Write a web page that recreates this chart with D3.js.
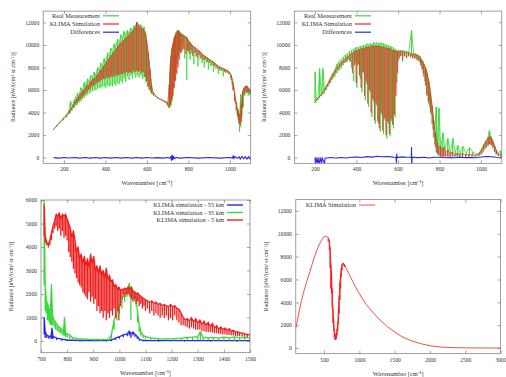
<!DOCTYPE html>
<html>
<head>
<meta charset="utf-8">
<script src="https://cdn.jsdelivr.net/npm/d3@7"></script>
<style>
  body { margin: 0; background: #fff; }
  svg text { font-family: "Liberation Serif", "Times New Roman", serif; fill: #333; }
</style>
</head>
<body>
<svg id="chart" width="506" height="377"></svg>
<script>
// ---- data ----
// spiky spectra: [wavenumber, top, dip]
const p1Real = [[150,2500,2450],[165,2850,2750],[180,3150,3050],[195,3450,3300],[210,3750,3550],[222,4100,3800],[232,5000,4000],[240,4600,4200],[250,5100,4400],[258,5400,4600],[266,5700,4700],[274,5600,4900],[282,6200,5000],[290,6000,5200],[298,6700,5300],[306,6400,5500],[314,7000,5600],[322,6700,5700],[330,7300,5800],[338,7100,5900],[346,7600,6000],[354,7300,6000],[362,8000,6100],[370,7700,6200],[378,8400,6200],[386,8100,6300],[394,8800,6300],[402,8500,6200],[410,9300,6400],[418,9000,6300],[426,9700,6400],[434,9400,6300],[442,10100,6500],[450,9800,6400],[458,10500,6600],[466,10200,6500],[474,10900,6800],[482,10500,6600],[490,11200,7000],[498,10800,6700],[506,11300,7200],[514,11000,6900],[522,11500,7300],[530,11200,7000],[538,11700,7400],[546,11500,7100],[554,12000,7300],[562,11600,7100],[570,11800,7300],[578,11500,7000],[586,11600,7100],[594,11000,6700],[602,9900,6300],[610,8600,6000],[618,7000,5800],[626,5900,5600],[640,5500,5400],[660,5250,5150],[680,5050,4950],[696,4900,4700],[704,4800,4400],[710,7500,4400],[716,9000,4600],[722,9800,5200],[728,10400,6100],[734,10800,6900],[740,11100,7600],[746,11300,8300],[752,11300,9000],[758,11100,9500],[766,11000,9300],[774,10900,9800],[782,10800,8800],[792,10700,6900],[800,10400,9400],[808,10200,8700],[816,10000,9200],[826,9800,8300],[836,9700,9000],[846,9500,8100],[856,9400,8800],[866,9200,8400],[876,9000,8000],[886,8900,8400],[896,8800,7800],[908,8600,8100],[920,8500,7600],[932,8300,7900],[944,8100,7400],[956,8000,7700],[968,7900,7200],[980,7800,7500],[992,7700,7400],[1002,7500,7100],[1010,7000,6500],[1018,6300,5900],[1026,5300,4800],[1034,4400,3900],[1040,4200,3300],[1046,3600,2300],[1052,5600,2700],[1058,4600,3600],[1064,6000,4500],[1072,6300,5500],[1080,6400,5700],[1088,6200,5500],[1096,6000,5600],[1100,5800,5500]];

const p1Sim = [[150,2500,2450],[169,2900,2850],[184,3200,3150],[199,3500,3400],[214,3800,3650],[228,4200,3900],[236,4400,4200],[246,4700,4450],[254,5000,4700],[262,5200,4850],[270,5400,5000],[278,5600,5150],[286,5800,5300],[294,6000,5500],[302,6100,5600],[310,6400,5800],[318,6400,6000],[326,6700,6100],[334,6800,6300],[342,7000,6400],[350,7000,6500],[358,7300,6600],[366,7400,6700],[374,7700,6800],[382,7800,6900],[390,8100,7000],[398,8200,7000],[406,8500,7100],[414,8700,7100],[422,8900,7100],[430,9100,7200],[438,9300,7200],[446,9500,7300],[454,9700,7300],[462,9900,7300],[470,10100,7400],[478,10200,7400],[486,10400,7500],[494,10500,7400],[502,10700,7600],[510,10800,7500],[518,11000,7600],[526,11100,7500],[534,11300,7700],[542,11500,7600],[550,12000,7700],[558,11800,7600],[566,11600,7700],[574,11500,7500],[582,11400,7600],[590,11100,7200],[598,10400,6800],[606,9300,6300],[614,7900,6000],[622,6400,5700],[632,5700,5500],[650,5350,5250],[670,5150,5050],[688,5000,4850],[700,4850,4600],[708,6500,4500],[714,8500,4700],[720,9600,5000],[726,10100,5500],[732,10600,6200],[738,10900,6800],[744,11100,7400],[750,11200,8000],[756,11200,8700],[762,11000,9300],[770,10900,9500],[778,10800,9600],[788,10700,9200],[796,10500,9500],[804,10300,9200],[812,10100,9500],[821,9900,9000],[831,9800,9300],[841,9600,8900],[851,9500,9100],[861,9300,8800],[871,9100,8700],[881,9000,8700],[891,8850,8500],[902,8700,8400],[914,8550,8200],[926,8400,8100],[938,8200,7900],[950,8050,7800],[962,7950,7700],[974,7850,7600],[986,7750,7550],[996,7600,7450],[1006,7300,6900],[1014,6700,6000],[1022,5800,5000],[1030,4900,4200],[1037,4300,3600],[1043,3900,3000],[1049,3600,2900],[1055,4800,3200],[1061,5800,4400],[1068,6200,5600],[1076,6300,5800],[1084,6300,5800],[1092,6100,5700],[1100,6000,5800]];

// differences: [wavenumber, value]
const p1Diff = [[150,0],[175,-40],[200,20],[225,-30],[250,10],[275,-40],[300,10],[325,-40],[350,20],[375,-40],[400,10],[425,-40],[450,20],[475,-40],[500,10],[525,-40],[550,20],[575,-40],[600,10],[625,-30],[650,0],[675,-40],[700,10],[712,-60],[716,120],[719,-250],[722,220],[725,-180],[728,120],[732,-90],[740,20],[760,-40],[800,10],[850,-40],[900,10],[950,-40],[1000,10],[1012,-40],[1016,180],[1019,-100],[1024,100],[1035,-60],[1045,80],[1050,-140],[1058,130],[1066,-100],[1074,90],[1082,-130],[1090,100],[1096,-120],[1100,40]];

const p2Real = [[200,7600,4900],[206,5100,5000],[214,5300,5150],[222,7900,5350],[230,5600,5450],[238,7900,5600],[246,5900,5750],[256,6400,6050],[266,6700,6350],[276,7100,6650],[286,7500,7000],[296,7800,7200],[306,8300,7500],[316,8500,7700],[326,8700,7900],[336,8900,8200],[346,9100,8400],[356,9200,8500],[366,9400,8600],[376,9500,8000],[386,9600,6800],[394,9700,8400],[402,9800,6200],[410,9700,8300],[418,9900,7000],[426,9800,5800],[434,10000,7500],[442,9900,5100],[450,10100,6500],[458,10000,4500],[466,10100,5800],[474,10000,3600],[482,10200,5000],[490,10100,3000],[498,10200,4600],[506,10100,3000],[514,10200,2300],[522,10100,3800],[530,10100,2100],[538,10000,3300],[546,10000,1700],[554,9900,3000],[562,9900,1900],[570,9800,3200],[578,9700,2600],[586,9600,3600],[594,9500,6600],[602,9500,8600],[612,9500,9000],[622,9500,8500],[632,9450,9000],[642,9400,8800],[652,9400,9000],[665,11300,9000],[675,9300,8900],[685,9200,8800],[695,9100,8600],[705,9000,8500],[713,8700,8000],[721,8500,7500],[729,8100,6800],[737,7800,5600],[745,7000,5000],[752,6300,4500],[760,5200,3800],[768,3800,2500],[776,2300,1200],[784,4500,500],[790,1200,300],[797,4400,200],[806,800,100],[816,2200,100],[826,700,100],[840,1700,100],[852,400,100],[864,1700,100],[876,500,100],[888,1100,100],[900,400,100],[912,1000,100],[928,400,100],[944,900,100],[960,500,100],[976,300,100],[992,400,150],[1002,700,300],[1012,1100,500],[1022,1400,800],[1032,1700,1000],[1040,2400,1200],[1048,1800,1100],[1056,1500,900],[1064,1100,600],[1072,700,300],[1082,400,150],[1094,600,100],[1100,300,100]];

const p2Sim = [[200,4900,4850],[210,5200,5100],[220,5400,5300],[230,5600,5500],[240,5800,5700],[250,6200,6000],[260,6500,6300],[270,6900,6600],[280,7200,6900],[290,7500,7200],[300,7800,7500],[310,8100,7800],[320,8300,8000],[330,8500,8200],[340,8700,8400],[350,8900,8500],[360,9000,8700],[370,9200,8500],[380,9300,7500],[390,9400,8200],[398,9500,6600],[406,9500,8200],[414,9600,7300],[422,9600,6200],[430,9700,7600],[438,9700,5500],[446,9800,6800],[454,9800,4800],[462,9800,6000],[470,9900,4000],[478,9900,5200],[486,9900,3300],[494,9900,4800],[502,9900,3200],[510,9900,2600],[518,9800,4000],[526,9800,2400],[534,9800,3500],[542,9700,2000],[550,9700,3200],[558,9700,2100],[566,9600,3400],[574,9500,2900],[582,9500,3800],[590,9400,5500],[598,9400,7500],[606,9400,8800],[614,9400,9000],[622,9400,8700],[630,9350,9000],[640,9300,8900],[650,9300,9000],[660,9250,8900],[670,9200,8800],[680,9150,8800],[690,9100,8700],[700,9000,8600],[708,8800,8200],[716,8600,7800],[724,8300,7200],[732,8000,6400],[740,7500,5500],[748,6800,4800],[756,5800,4000],[764,4600,3000],[772,3300,1800],[780,2200,900],[788,1300,400],[796,900,200],[804,1000,100],[812,700,100],[820,900,100],[830,500,100],[840,700,100],[850,400,100],[860,500,100],[872,300,100],[884,400,100],[896,300,100],[910,350,100],[925,250,100],[940,300,100],[955,250,100],[970,200,100],[985,300,150],[995,500,250],[1005,800,400],[1015,1200,700],[1025,1500,900],[1035,1800,1100],[1043,1900,1200],[1050,1750,1100],[1058,1400,900],[1066,1000,500],[1074,600,300],[1084,300,150],[1100,200,100]];

const p2Diff = [[200,0],[202,-650],[204,0],[212,-550],[214,0],[222,-650],[224,0],[232,-450],[234,0],[246,-550],[248,-50],[275,10],[300,-30],[325,20],[350,-30],[375,30],[400,50],[425,20],[450,90],[475,50],[500,130],[525,80],[550,100],[575,50],[590,40],[592,-450],[594,320],[596,0],[620,70],[640,30],[664,50],[665,900],[666,-750],[668,40],[700,0],[725,40],[750,-30],[775,30],[800,40],[825,-10],[850,20],[875,-10],[900,30],[925,0],[950,20],[975,-10],[1000,60],[1025,100],[1050,80],[1075,30],[1100,20]];

const p3Km55 = [[712,1000,300],[716,400,150],[722,250,150],[730,200,120],[738,180,120],[742,550,120],[746,200,100],[760,120,60],[780,80,30],[800,40,10],[850,20,0],[900,20,0],[950,20,0],[970,40,10],[985,120,60],[1000,180,120],[1015,260,180],[1030,300,220],[1038,420,250],[1044,300,150],[1052,380,250],[1060,280,200],[1068,200,120],[1076,80,30],[1090,20,0],[1150,10,-10],[1250,10,-10],[1350,10,-10],[1450,10,-10],[1500,10,-10]];

const p3Km35 = [[712,6000,2400],[716,2400,1300],[720,1800,1200],[724,1600,900],[728,1500,900],[732,1300,800],[736,1200,700],[740,2400,700],[744,1100,700],[750,900,600],[756,800,500],[762,700,450],[768,600,400],[774,550,350],[780,500,300],[786,450,250],[790,1000,250],[794,350,200],[800,300,150],[810,250,100],[820,150,80],[840,100,50],[870,80,40],[900,60,30],[930,70,30],[960,60,20],[970,300,100],[980,900,500],[990,1200,900],[1000,1500,1200],[1010,1800,1400],[1020,2000,1700],[1030,2200,1900],[1038,2450,2100],[1044,2000,900],[1050,2200,1800],[1058,2000,1700],[1064,1800,1500],[1070,1200,800],[1076,700,400],[1082,400,250],[1090,250,150],[1100,180,100],[1120,130,80],[1150,100,60],[1180,90,50],[1210,100,40],[1240,120,40],[1260,150,50],[1280,160,60],[1300,180,60],[1310,400,60],[1320,150,50],[1340,130,50],[1360,150,40],[1380,120,40],[1400,160,40],[1420,130,40],[1440,170,40],[1460,130,40],[1480,150,40],[1500,120,40]];

const p3Km5 = [[712,5800,4500],[716,4500,4200],[722,4200,4100],[728,4100,4000],[734,4300,4100],[740,4600,4300],[746,4900,4600],[752,5100,4800],[758,5400,4900],[764,5300,4700],[770,5450,4800],[776,5200,4500],[782,5400,4700],[788,5300,4400],[794,5400,4500],[800,5200,4300],[806,5000,3800],[812,4800,3600],[818,4400,3400],[824,4700,3100],[830,4300,2900],[836,3800,2700],[842,4000,2500],[848,3500,2400],[854,3700,2300],[860,3300,2100],[866,3600,2000],[872,3200,1900],[878,3500,1800],[884,3100,2100],[890,3700,1700],[896,3300,1900],[902,3600,1600],[908,3000,1800],[914,3200,1300],[920,2900,1500],[926,3200,1200],[932,2800,1300],[938,3000,1000],[944,2700,1300],[950,3100,900],[956,2600,1200],[962,2800,1000],[968,2500,1300],[974,2600,1100],[980,2300,1400],[986,2400,1000],[992,2200,1300],[998,2300,900],[1004,2150,1500],[1010,2200,1800],[1016,2200,2000],[1022,2250,1900],[1028,2200,2000],[1034,2300,2000],[1040,2200,1900],[1046,2300,1800],[1052,2100,1700],[1058,2100,1800],[1064,2000,1600],[1070,2050,1700],[1076,1950,1500],[1082,1900,1600],[1088,1850,1400],[1094,1800,1500],[1100,1750,1300],[1108,1700,1400],[1116,1650,1200],[1124,1700,1300],[1132,1600,1100],[1140,1650,1200],[1148,1550,1100],[1156,1600,1000],[1164,1500,1100],[1172,1550,1000],[1180,1500,1100],[1188,1450,900],[1196,1550,1000],[1204,1450,900],[1212,1500,1100],[1220,1400,900],[1228,1350,800],[1236,1200,700],[1244,1000,700],[1252,900,650],[1260,950,600],[1268,850,550],[1276,1000,600],[1284,800,550],[1292,950,500],[1300,750,500],[1308,900,500],[1316,700,450],[1324,850,450],[1332,650,400],[1340,800,400],[1348,600,400],[1356,750,380],[1364,550,350],[1372,650,350],[1380,500,330],[1388,600,320],[1396,480,300],[1404,550,300],[1412,450,280],[1420,520,270],[1428,420,260],[1436,450,250],[1444,380,240],[1452,400,230],[1460,350,220],[1470,330,210],[1480,300,200],[1490,280,190],[1500,260,180]];

const p4Sim = [[100,1700,1700],[150,3300,3300],[200,4650,4650],[250,5700,5700],[300,6700,6700],[350,7700,7700],[400,8600,8600],[450,9300,9300],[500,9750,9750],[530,9800,9800],[560,9650,9300],[575,9400,8600],[585,8800,7000],[595,7400,5200],[605,6800,4800],[615,5200,3500],[625,3500,2200],[635,2600,1500],[645,1600,900],[655,1200,700],[665,1000,700],[675,1300,800],[685,1700,1100],[695,2300,1500],[705,3600,2100],[715,4600,3000],[725,5800,4200],[735,6500,5200],[745,7000,6200],[755,7300,6800],[770,7450,7200],[790,7300,7100],[820,6900,6900],[860,6400,6400],[900,5900,5900],[950,5300,5300],[1000,4750,4750],[1050,4250,4250],[1100,3800,3800],[1200,3050,3050],[1300,2400,2400],[1400,1850,1850],[1500,1400,1400],[1600,1000,1000],[1700,720,720],[1800,500,500],[1900,330,330],[2000,200,200],[2100,120,120],[2200,60,60],[2400,20,20],[2600,5,5],[2800,0,0],[3000,0,0]];

// tick values
const ticksWide = [0, 2000, 4000, 6000, 8000, 10000, 12000];
const ticksLow = [0, 1000, 2000, 3000, 4000, 5000, 6000];
const xTicksA = [200, 400, 600, 800, 1000];
const xTicksB = [700, 800, 900, 1000, 1100, 1200, 1300, 1400, 1500];
const xTicksC = [500, 1000, 1500, 2000, 2500, 3000];

const GREEN = '#3ad83a', RED = '#f02020', BLUE = '#2828e8';
const yLabel = 'Radiance [nW/(cm² sr cm⁻¹)]';
const xLabel = 'Wavenumber [cm⁻¹]';

const svg = d3.select('#chart');

// each row becomes a vertical drop from top to dip and back
function spikes(rows) {
  return rows.flatMap(r => [[r[0], r[1]], [r[0], r[2]], [r[0], r[1]]]);
}

function panel(p) {
  const x = d3.scaleLinear().domain(p.xDom).range([p.left, p.right]);
  const y = d3.scaleLinear().domain(p.yDom).range([p.bottom, p.top]);
  const g = svg.append('g');

  svg.append('clipPath').attr('id', 'clip' + p.id)
    .append('rect')
    .attr('x', p.left).attr('y', p.top)
    .attr('width', p.right - p.left).attr('height', p.bottom - p.top);

  const line = d3.line().x(d => x(d[0])).y(d => y(d[1]));
  const plot = g.append('g').attr('clip-path', `url(#clip${p.id})`);
  p.series.forEach(s => {
    plot.append('path')
      .datum(s.pts)
      .attr('fill', 'none')
      .attr('stroke', s.color)
      .attr('stroke-width', s.w)
      .attr('stroke-opacity', s.op || 1)
      .attr('stroke-linejoin', 'round')
      .attr('d', line);
  });

  // axes on all four sides, ticks pointing inwards
  const fmt = d3.format('d');
  const axes = [
    [d3.axisBottom(x).tickValues(p.xTicks).tickFormat(fmt), `translate(0,${p.bottom})`],
    [d3.axisTop(x).tickValues(p.xTicks).tickFormat(''), `translate(0,${p.top})`],
    [d3.axisLeft(y).tickValues(p.yTicks).tickFormat(fmt), `translate(${p.left},0)`],
    [d3.axisRight(y).tickValues(p.yTicks).tickFormat(''), `translate(${p.right},0)`],
  ];
  axes.forEach(([ax, tr]) => {
    const a = g.append('g').attr('transform', tr)
      .call(ax.tickSizeInner(-3).tickSizeOuter(0).tickPadding(4));
    a.select('.domain').remove();
    a.selectAll('line').attr('stroke', '#666').attr('stroke-width', 0.6);
    a.selectAll('text').attr('font-size', 5.6).attr('fill', '#333')
      .attr('font-family', '"Liberation Serif", serif');
  });

  g.append('rect')
    .attr('x', p.left).attr('y', p.top)
    .attr('width', p.right - p.left).attr('height', p.bottom - p.top)
    .attr('fill', 'none').attr('stroke', '#777').attr('stroke-width', 0.7);

  // axis titles
  g.append('text')
    .attr('x', (p.left + p.right) / 2).attr('y', p.bottom + 22)
    .attr('text-anchor', 'middle').attr('font-size', 6.3)
    .text(xLabel);
  g.append('text')
    .attr('transform', `translate(${p.left - 28},${(p.top + p.bottom) / 2}) rotate(-90)`)
    .attr('text-anchor', 'middle').attr('font-size', 6)
    .text(yLabel);

  // key
  p.key.rows.forEach((k, i) => {
    const cy = p.key.y + i * p.key.dy;
    g.append('text')
      .attr('x', p.key.x).attr('y', cy + 2.2)
      .attr('text-anchor', 'end').attr('font-size', 6.4)
      .text(k.label);
    g.append('line')
      .attr('x1', p.key.x + 3).attr('x2', p.key.x + 19)
      .attr('y1', cy).attr('y2', cy)
      .attr('stroke', k.color).attr('stroke-width', p.key.w);
  });
}

panel({
  id: 1, xDom: [100, 1100], yDom: [-500, 13000],
  left: 43.2, right: 250.7, top: 11.1, bottom: 163.3,
  xTicks: xTicksA, yTicks: ticksWide,
  series: [
    { pts: spikes(p1Real), color: GREEN, w: 0.8 },
    { pts: spikes(p1Sim), color: RED, w: 0.7, op: 0.85 },
    { pts: p1Diff, color: BLUE, w: 1.1 },
  ],
  key: { x: 100, y: 15.8, dy: 8.2, w: 1.2, rows: [
    { label: 'Real Measurement', color: GREEN },
    { label: 'KLIMA Simulation', color: RED },
    { label: 'Differences', color: BLUE },
  ] },
});

panel({
  id: 2, xDom: [100, 1100], yDom: [-500, 13000],
  left: 294.3, right: 501.8, top: 11.1, bottom: 163.3,
  xTicks: xTicksA, yTicks: ticksWide,
  series: [
    { pts: spikes(p2Real), color: GREEN, w: 0.8 },
    { pts: spikes(p2Sim), color: RED, w: 0.7, op: 0.85 },
    { pts: p2Diff, color: BLUE, w: 1.1 },
  ],
  key: { x: 352, y: 15.8, dy: 8.2, w: 1.2, rows: [
    { label: 'Real Measurement', color: GREEN },
    { label: 'KLIMA Simulation', color: RED },
    { label: 'Differences', color: BLUE },
  ] },
});

panel({
  id: 3, xDom: [700, 1500], yDom: [-500, 6000],
  left: 41, right: 250, top: 200, bottom: 352.7,
  xTicks: xTicksB, yTicks: ticksLow,
  series: [
    { pts: spikes(p3Km55), color: BLUE, w: 1.3 },
    { pts: spikes(p3Km35), color: GREEN, w: 1.3 },
    { pts: spikes(p3Km5), color: RED, w: 1.3 },
  ],
  key: { x: 224, y: 205, dy: 7.5, w: 1.4, rows: [
    { label: 'KLIMA simulation - 55 km', color: BLUE },
    { label: 'KLIMA simulation - 35 km', color: GREEN },
    { label: 'KLIMA simulation - 5 km', color: RED },
  ] },
});

panel({
  id: 4, xDom: [100, 3000], yDom: [-500, 13000],
  left: 295.8, right: 500.6, top: 199.5, bottom: 353.7,
  xTicks: xTicksC, yTicks: ticksWide,
  series: [
    { pts: spikes(p4Sim), color: RED, w: 0.8 },
  ],
  key: { x: 356, y: 205, dy: 8, w: 0.8, rows: [
    { label: 'KLIMA Simulation', color: RED },
  ] },
});
</script>
</body>
</html>
